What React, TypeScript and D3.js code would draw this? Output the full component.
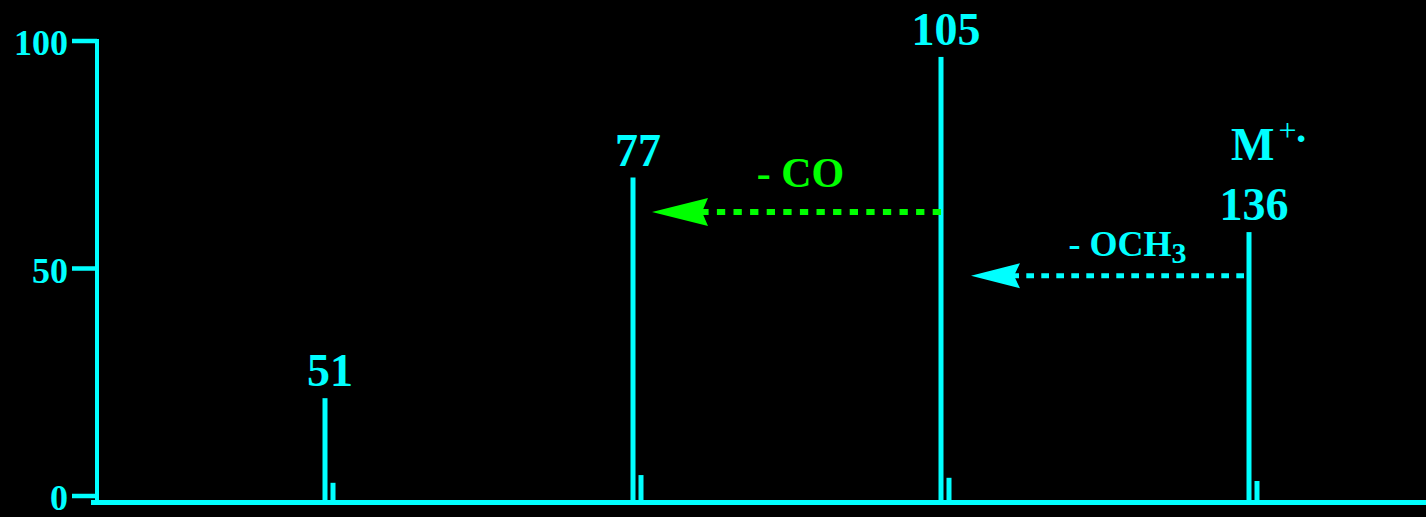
import React from 'react';
import * as d3 from 'd3';

// Fragment ions (m/z) and relative intensities of the spectrum
const fragments = ['51', '77', '105', '136'];
const intensities = [21.5, 70, 96.5, 58];
// M+1 isotope peaks next to each fragment
const isotopeIntensities = [2.9, 4.6, 4.0, 3.3];
const yTicks = [0, 50, 100];

// Neutral losses between fragments
const lossFrom = ['105', '136'];
const lossTo = ['77', '105'];
const lossLevel = [62.4, 48.4];

const W = 1426;
const H = 517;
const CYAN = '#00ffff';
const GREEN = '#00ff00';
const FONT = '"Liberation Serif", "Times New Roman", Times, serif';

const lossStyle = [
  { color: GREEN, tipGap: 19, tailGap: 0, headLen: 56, headHalf: 14, notch: 50, width: 6, dash: '8.3 8.3', labelDx: 4, labelDy: -25, fontSize: 42 },
  { color: CYAN, tipGap: 30, tailGap: -5, headLen: 49, headHalf: 12.5, notch: 43, width: 5, dash: '7.7 7.3', labelDx: 20, labelDy: -20, fontSize: 36 },
];

export default function App() {
  const x = d3.scalePoint<string>().domain(fragments).range([325, 1249]);
  const y = d3.scaleLinear().domain([0, 100]).range([496, 41]);

  const axisX = 97;
  const baseTop = 500;
  const baseH = 5;
  const isoStep = 8; // pixels per mass unit for the M+1 offset
  const barW = 5;

  return (
    <svg
      width={W}
      height={H}
      viewBox={`0 0 ${W} ${H}`}
      style={{ position: 'absolute', left: 0, top: 0, display: 'block', background: '#000' }}
    >
      <rect x={0} y={0} width={W} height={H} fill="#000" />

      {/* y axis */}
      <rect x={axisX - 2} y={y(100) - 2} width={4} height={baseTop - y(100) + 2} fill={CYAN} />
      {yTicks.map((t) => (
        <g key={t}>
          <rect x={72} y={y(t) - 2.25} width={axisX - 72} height={4.5} fill={CYAN} />
          <text
            x={68}
            y={y(t)}
            dy="0.4em"
            textAnchor="end"
            fill={CYAN}
            fontFamily={FONT}
            fontWeight="bold"
            fontSize={36}
          >
            {t}
          </text>
        </g>
      ))}

      {/* baseline */}
      <rect x={91} y={baseTop} width={W - 91} height={baseH} fill={CYAN} />

      {/* peaks */}
      {fragments.map((f, i) => {
        const cx = x(f)!;
        const top = y(intensities[i]);
        const isoTop = y(isotopeIntensities[i]);
        return (
          <g key={f}>
            <rect x={cx - barW / 2} y={top} width={barW} height={baseTop - top} fill={CYAN} />
            <rect x={cx + isoStep - barW / 2} y={isoTop} width={barW} height={baseTop - isoTop} fill={CYAN} />
            <text
              x={cx + 5}
              y={top - 12}
              textAnchor="middle"
              fill={CYAN}
              fontFamily={FONT}
              fontWeight="bold"
              fontSize={46}
            >
              {f}
            </text>
          </g>
        );
      })}

      {/* molecular ion marker */}
      {(() => {
        const idx = fragments.length - 1;
        const cx = x(fragments[idx])!;
        const baseline = y(intensities[idx]) - 12 - 60;
        return (
          <text x={cx - 18} y={baseline} fill={CYAN} fontFamily={FONT} fontSize={46} fontWeight="bold">
            M
            <tspan dy={-19} dx={4} fontSize={32} fontWeight="normal">+</tspan>
            <tspan dy={11} dx={-2} fontSize={40} fontWeight="bold">·</tspan>
          </text>
        );
      })()}

      {/* loss arrows */}
      {lossFrom.map((from, i) => {
        const s = lossStyle[i];
        const tip = x(lossTo[i])! + s.tipGap;
        const tail = x(from)! + s.tailGap;
        const ly = y(lossLevel[i]);
        const head = `M${tip},${ly} L${tip + s.headLen},${ly - s.headHalf} L${tip + s.notch},${ly} L${tip + s.headLen},${ly + s.headHalf} Z`;
        const mid = (tip + tail) / 2 + s.labelDx;
        return (
          <g key={from}>
            <line
              x1={tail}
              y1={ly}
              x2={tip + s.notch}
              y2={ly}
              stroke={s.color}
              strokeWidth={s.width}
              strokeDasharray={s.dash}
            />
            <path d={head} fill={s.color} />
            <text
              x={mid}
              y={ly + s.labelDy}
              textAnchor="middle"
              fill={s.color}
              fontFamily={FONT}
              fontWeight="bold"
              fontSize={s.fontSize}
            >
              {i === 0 ? (
                '- CO'
              ) : (
                <>
                  - OCH
                  <tspan dy={7} fontSize={30}>3</tspan>
                </>
              )}
            </text>
          </g>
        );
      })}
    </svg>
  );
}
